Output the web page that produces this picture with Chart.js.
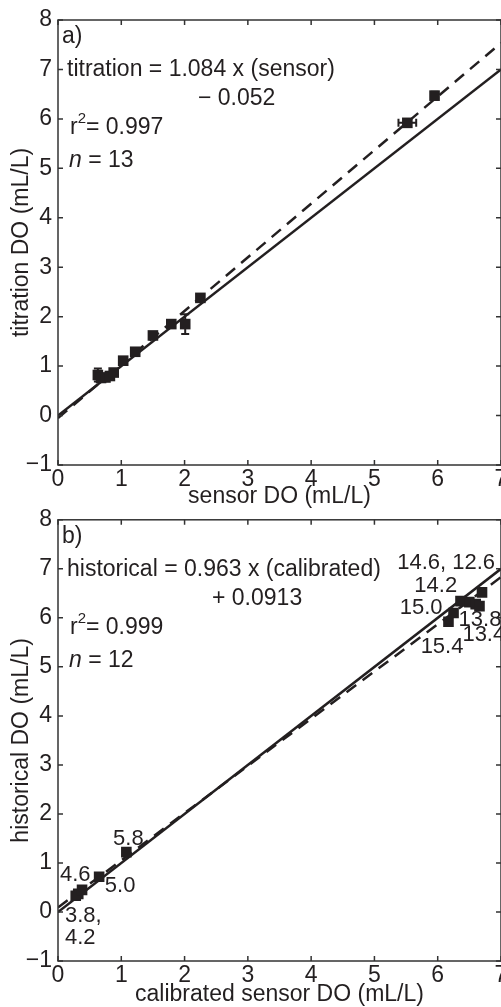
<!DOCTYPE html>
<html>
<head>
<meta charset="utf-8">
<script src="https://cdn.jsdelivr.net/npm/chart.js@4/dist/chart.umd.min.js"></script>
<style>
  html, body { margin: 0; padding: 0; background: #fff; overflow: hidden; width: 501px; height: 1007px; }
  .wrap { position: absolute; left: 0; width: 540px; }
  #wa { top: 0; height: 510px; }
  #wb { top: 500px; height: 507px; }
  canvas { display: block; }
</style>
</head>
<body>
<div class="wrap" id="wa"><canvas id="chartA" width="540" height="510"></canvas></div>
<div class="wrap" id="wb"><canvas id="chartB" width="540" height="507"></canvas></div>
<script>
// panel a: sensor vs titration
const sensorA       = [0.63, 0.68, 0.75, 0.82, 0.88, 1.03, 1.22, 1.50, 1.79, 2.01, 2.25, 5.52, 5.95];
const titrationA    = [0.82, 0.76, 0.77, 0.80, 0.87, 1.11, 1.29, 1.62, 1.85, 1.85, 2.38, 5.92, 6.47];
const sensorErrA    = [0, 0, 0, 0, 0, 0, 0, 0, 0, 0, 0, 0.14, 0];
const titrationErrA = [0.13, 0, 0, 0, 0, 0, 0, 0, 0, 0.2, 0, 0, 0.08];
const oneToOneA = [[0, 0], [7, 7]];
const fitA      = [[0, -0.052], [7, 7.536]];

// panel b: calibrated sensor vs historical
const calibratedB = [0.28, 0.32, 0.38, 0.65, 1.08, 6.17, 6.25, 6.36, 6.50, 6.60, 6.66, 6.70];
const historicalB = [0.33, 0.37, 0.45, 0.72, 1.22, 5.92, 6.10, 6.34, 6.32, 6.28, 6.24, 6.52];
const oneToOneB = [[0, 0], [7, 7]];
const fitB      = [[0, 0.0913], [7, 6.832]];

// depth labels next to the panel b points
const depthText = ['14.6, 12.6', '14.2', '15.0', '13.8', '13.4', '15.4', '4.6', '5.0', '5.8', '3.8,', '4.2'];
const depthX    = [5.36, 5.63, 5.40, 6.33, 6.39, 5.73, 0.03, 0.74, 0.87, 0.11, 0.11];
const depthY    = [7.12, 6.65, 6.21, 5.96, 5.66, 5.40, 0.75, 0.53, 1.50, -0.08, -0.53];

const xTicks = [0, 1, 2, 3, 4, 5, 6, 7];
const yTicks = [-1, 0, 1, 2, 3, 4, 5, 6, 7, 8];

const FONT = "'Liberation Sans', Arial, Helvetica, sans-serif";
const INK = '#231f20';

function pts(xs, ys) { return xs.map((v, i) => ({ x: v, y: ys[i] })); }
function linePts(arr) { return arr.map(p => ({ x: p[0], y: p[1] })); }
function fmt(v) { return v < 0 ? '\u2212' + Math.abs(v) : String(v); }

const framePlugin = {
  id: 'frame',
  afterDatasetsDraw(chart) {
    const { ctx, chartArea: a, scales: { x, y } } = chart;
    const len = 5;
    ctx.save();
    ctx.strokeStyle = '#333';
    ctx.lineWidth = 1.5;
    ctx.strokeRect(a.left, a.top, a.right - a.left, a.bottom - a.top);
    ctx.beginPath();
    x.ticks.forEach(t => {
      const px = x.getPixelForValue(t.value);
      ctx.moveTo(px, a.bottom); ctx.lineTo(px, a.bottom - len);
      ctx.moveTo(px, a.top); ctx.lineTo(px, a.top + len);
    });
    y.ticks.forEach(t => {
      const py = y.getPixelForValue(t.value);
      ctx.moveTo(a.left, py); ctx.lineTo(a.left + len, py);
      ctx.moveTo(a.right, py); ctx.lineTo(a.right - len, py);
    });
    ctx.stroke();
    ctx.restore();
  }
};

const errorPlugin = {
  id: 'errbars',
  beforeDatasetsDraw(chart, args, opts) {
    if (!opts.xs) return;
    const { ctx, scales: { x, y } } = chart;
    const cap = 4;
    ctx.save();
    ctx.strokeStyle = INK;
    ctx.lineWidth = 2;
    ctx.beginPath();
    opts.xs.forEach((xv, i) => {
      const px = x.getPixelForValue(xv), py = y.getPixelForValue(opts.ys[i]);
      const ey = opts.ye[i], ex = opts.xe[i];
      if (ey) {
        const y1 = y.getPixelForValue(opts.ys[i] - ey), y2 = y.getPixelForValue(opts.ys[i] + ey);
        ctx.moveTo(px, y1); ctx.lineTo(px, y2);
        ctx.moveTo(px - cap, y1); ctx.lineTo(px + cap, y1);
        ctx.moveTo(px - cap, y2); ctx.lineTo(px + cap, y2);
      }
      if (ex) {
        const x1 = x.getPixelForValue(xv - ex), x2 = x.getPixelForValue(xv + ex);
        ctx.moveTo(x1, py); ctx.lineTo(x2, py);
        ctx.moveTo(x1, py - cap); ctx.lineTo(x1, py + cap);
        ctx.moveTo(x2, py - cap); ctx.lineTo(x2, py + cap);
      }
    });
    ctx.stroke();
    ctx.restore();
  }
};

const notesPlugin = {
  id: 'notes',
  afterDraw(chart, args, opts) {
    const { ctx, chartArea: a, scales: { x, y } } = chart;
    ctx.save();
    ctx.fillStyle = INK;
    ctx.textBaseline = 'middle';
    ctx.textAlign = 'left';
    const big = '23px ' + FONT;
    ctx.font = big;
    ctx.fillText(opts.tag, a.left + 4, a.top + 17);
    ctx.fillText(opts.eq1, a.left + 9, a.top + 50);
    ctx.fillText(opts.eq2, a.left + opts.eq2x, a.top + 79);
    // r squared
    let rx = a.left + 12;
    const ry = a.top + 108;
    ctx.fillText('r', rx, ry);
    rx += ctx.measureText('r').width;
    ctx.font = '15px ' + FONT;
    ctx.fillText('2', rx, ry - 9);
    rx += ctx.measureText('2').width;
    ctx.font = big;
    ctx.fillText('= ' + opts.r2, rx, ry);
    // n
    let nx = a.left + 11;
    const ny = a.top + 141;
    ctx.font = 'italic 23px ' + FONT;
    ctx.fillText('n', nx, ny);
    nx += ctx.measureText('n').width;
    ctx.font = big;
    ctx.fillText(' = ' + opts.n, nx, ny);
    // point labels
    if (opts.labels) {
      ctx.font = '22px ' + FONT;
      opts.labels.text.forEach((t, i) => {
        ctx.fillText(t, x.getPixelForValue(opts.labels.x[i]), y.getPixelForValue(opts.labels.y[i]));
      });
    }
    ctx.restore();
  }
};

function makeChart(id, cfg) {
  const tickFont = { family: FONT, size: 23 };
  return new Chart(document.getElementById(id), {
    type: 'scatter',
    data: {
      datasets: [
        {
          data: cfg.points,
          pointStyle: 'rect',
          pointRadius: 7.5,
          pointHoverRadius: 7.5,
          backgroundColor: INK,
          borderColor: INK,
          borderWidth: 0
        },
        {
          data: linePts(cfg.oneToOne),
          showLine: true,
          pointRadius: 0,
          borderColor: INK,
          borderWidth: 2.5
        },
        {
          data: linePts(cfg.fit),
          showLine: true,
          pointRadius: 0,
          borderColor: INK,
          borderWidth: 2.5,
          borderDash: [12, 8]
        }
      ]
    },
    options: {
      responsive: false,
      animation: false,
      events: [],
      layout: { padding: { top: cfg.padTop, right: 39, left: 0, bottom: 0 } },
      plugins: {
        legend: { display: false },
        tooltip: { enabled: false },
        errbars: cfg.err || {},
        notes: cfg.notes
      },
      scales: {
        x: {
          type: 'linear',
          min: 0, max: 7,
          afterBuildTicks: s => { s.ticks = xTicks.map(v => ({ value: v })); },
          afterFit: s => { s.height = cfg.xHeight; },
          grid: { display: false, drawTicks: false },
          border: { display: false },
          ticks: { font: tickFont, color: INK, padding: 1, maxRotation: 0, callback: fmt },
          title: {
            display: true,
            text: cfg.xTitle,
            font: { family: FONT, size: 23, lineHeight: 1 },
            color: INK,
            padding: { top: 0, bottom: cfg.xTitlePad }
          }
        },
        y: {
          type: 'linear',
          min: -1, max: 8,
          afterBuildTicks: s => { s.ticks = yTicks.map(v => ({ value: v })); },
          afterFit: s => { s.width = 58; },
          grid: { display: false, drawTicks: false },
          border: { display: false },
          ticks: { font: tickFont, color: INK, padding: 6, callback: fmt },
          title: {
            display: true,
            text: cfg.yTitle,
            font: { family: FONT, size: 23, lineHeight: 1 },
            color: INK,
            padding: { top: 10, bottom: 0 }
          }
        }
      }
    },
    plugins: [framePlugin, errorPlugin, notesPlugin]
  });
}

makeChart('chartA', {
  points: pts(sensorA, titrationA),
  oneToOne: oneToOneA,
  fit: fitA,
  padTop: 20,
  xHeight: 45,
  xTitlePad: 2,
  xTitle: 'sensor DO (mL/L)',
  yTitle: 'titration DO (mL/L)',
  err: { xs: sensorA, ys: titrationA, xe: sensorErrA, ye: titrationErrA },
  notes: { tag: 'a)', eq1: 'titration = 1.084 x (sensor)', eq2: '\u2212 0.052', eq2x: 140, r2: '0.997', n: '13' }
});

makeChart('chartB', {
  points: pts(calibratedB, historicalB),
  oneToOne: oneToOneB,
  fit: fitB,
  padTop: 17,
  xHeight: 46,
  xTitlePad: 1,
  xTitle: 'calibrated sensor DO (mL/L)',
  yTitle: 'historical DO (mL/L)',
  notes: {
    tag: 'b)', eq1: 'historical = 0.963 x (calibrated)', eq2: '+ 0.0913', eq2x: 154, r2: '0.999', n: '12',
    labels: { text: depthText, x: depthX, y: depthY }
  }
});
</script>
</body>
</html>
